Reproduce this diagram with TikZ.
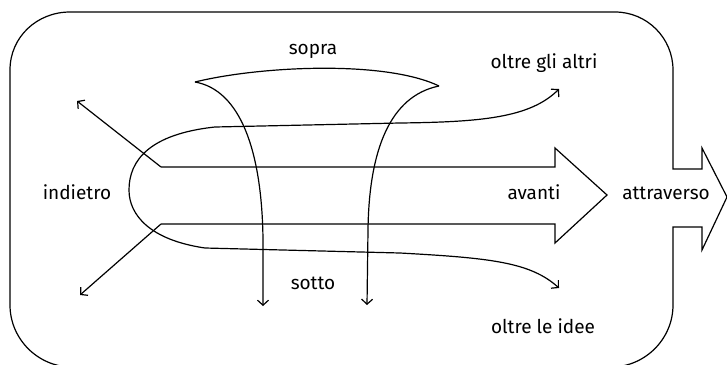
\documentclass[tikz,border=0pt]{standalone}
\usepackage{fontspec}
\setmainfont{Fira Sans}
\usetikzlibrary{arrows.meta}
\begin{document}
\begin{tikzpicture}[x=1pt,y=-1pt,
  line width=1.2pt, line join=miter,
  barb/.tip={Straight Barb[length=5pt,width=11pt,line width=1.2pt]},
  tip/.style={-barb},
  lbl/.style={anchor=base, inner sep=0pt, font=\fontsize{19}{22}\selectfont}]
\useasboundingbox (0,0) rectangle (727,364);

% outer frame ending in the "attraverso" arrow
\draw (702,148) -- (702,169) -- (673,169) -- (673,70)
  .. controls (673,38) and (647,12) .. (615,12) -- (70,12)
  .. controls (37,12) and (10,37) .. (10,70) -- (10,305)
  .. controls (10,339) and (38,367) .. (72,367) -- (611,367)
  .. controls (645,367) and (673,339) .. (673,305) -- (673,227)
  -- (702,227) -- (702,250) -- (727,197) -- cycle;

% the "avanti" arrow, open at its tail
\coordinate (ta) at (161,167);
\coordinate (tb) at (161,224);
\draw (ta) -- (555,167) -- (555,148) -- (607,195) -- (555,243) -- (555,224) -- (tb);

% "indietro" arrows
\coordinate (nw) at (77,101);
\coordinate (sw) at (80,295);
\draw[tip] (ta) -- (nw);
\draw[tip] (tb) -- (sw);

% the "oltre" loop
\coordinate (oa) at (559,89);
\coordinate (ob) at (559,288);
\draw[barb-barb]
  (oa) .. controls (530,118) and (480,122) .. (400,123)
  -- (215,127) .. controls (150,134) and (129,160) .. (129,190)
  .. controls (129,215) and (150,240) .. (205,248)
  -- (400,253) .. controls (490,258) and (530,262) .. (ob);

% the "sopra" / "sotto" shape
\coordinate (sl) at (195,82);
\coordinate (sr) at (439,86);
\coordinate (dl) at (263,306);
\coordinate (dr) at (367,305);
\draw (sl) .. controls (260,66) and (385,60) .. (sr);
\draw[tip] (sl) .. controls (240,90) and (262,150) .. (263,240) -- (dl);
\draw[tip] (sr) .. controls (390,96) and (369,150) .. (368,230) -- (dr);

% labels
\node[lbl] (sopra) at (313,54) {sopra};
\node[lbl] (altri) at (544,68) {oltre gli altri};
\node[lbl] (indietro) at (77,199) {indietro};
\node[lbl] (avanti) at (534,199) {avanti};
\node[lbl] (attraverso) at (666,199) {attraverso};
\node[lbl] (sotto) at (313,289) {sotto};
\node[lbl] (idee) at (543,333) {oltre le idee};
\end{tikzpicture}
\end{document}
